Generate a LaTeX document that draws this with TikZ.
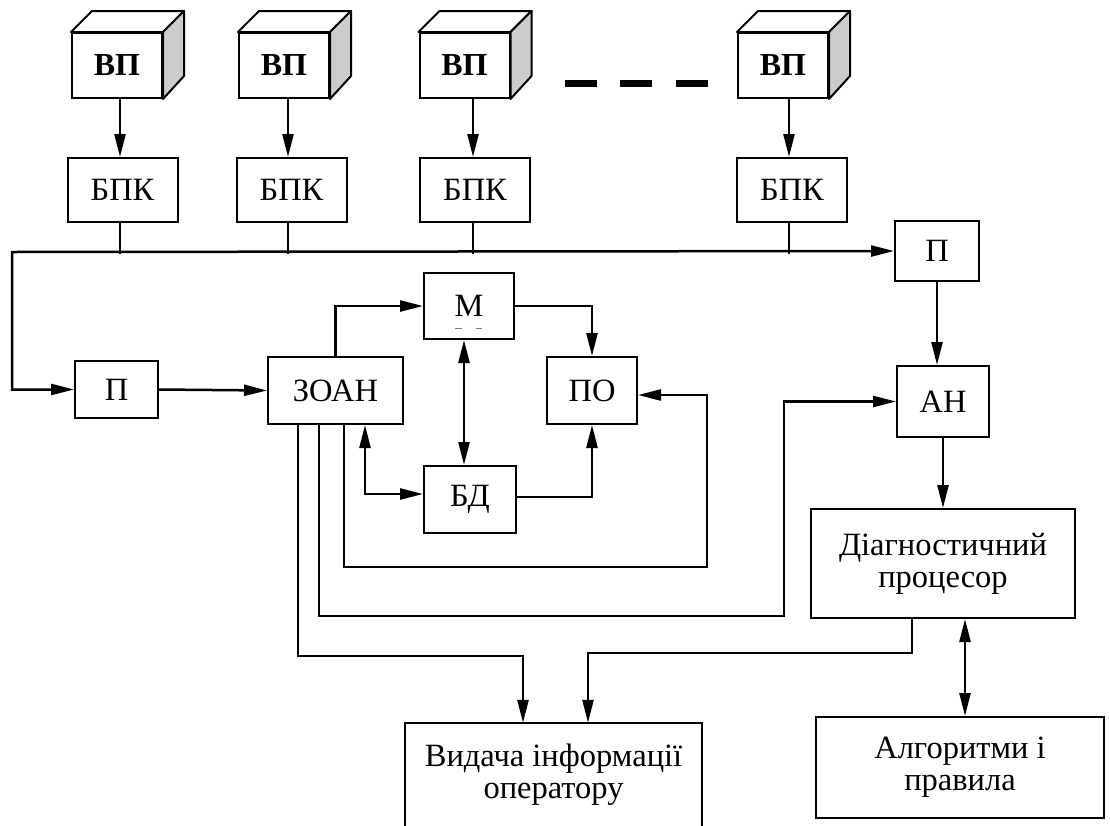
\documentclass[tikz,border=0pt]{standalone}
\usepackage{fontspec}
\setmainfont{Liberation Serif}
\usetikzlibrary{arrows.meta,calc}
\begin{document}
\begin{tikzpicture}[x=1pt,y=-1pt,
  txt/.style={font=\fontsize{32.5}{32}\selectfont, align=center},
  box/.style={draw, line width=2pt, inner sep=0pt, txt},
  conn/.style={line width=2.5pt, line join=miter},
  arr/.style={conn, -{Triangle[length=23pt,width=11pt]}},
  arrb/.style={conn, {Triangle[length=23pt,width=11pt]}-{Triangle[length=23pt,width=11pt]}},
  drop/.style={line width=1.5pt},
  cube/.style={draw, fill=white, line width=2pt, minimum width=90pt, minimum height=65pt, inner sep=0pt, font=\bfseries\fontsize{32}{32}\selectfont},
  cubetop/.style={draw, line width=2pt, line join=round, fill=white},
  cubeside/.style={draw, line width=2pt, line join=round, fill=black!20},
]
\useasboundingbox (0,0) rectangle (1110,825);

% sensors and signal blocks
\foreach \i/\cx/\bx/\lx in {1/117/122.5/120, 2/284/291.5/288, 3/464.5/475/473, 4/783/792/789}{
  \node[cube] (c\i) at (\cx,65.5) {ВП};
  \draw[cubetop] (c\i.north west) -- ++(21,-21) -- ($(c\i.north east)+(21,-21)$) -- (c\i.north east) -- cycle;
  \draw[cubeside] (c\i.north east) -- ++(21,-21) -- ++(0,65) -- (c\i.south east) -- cycle;
  \node[box, minimum width=110pt, minimum height=64pt] (b\i) at (\bx,190) {БПК};
  \coordinate (l\i) at (\lx,254);
  \draw[arr] (c\i.south -| l\i) -- (b\i.north -| l\i);
  \draw[drop] (b\i.south -| l\i) -- (l\i);
}
% dashes between sensors
\draw[line width=7pt] (565,83) -- (597,83) (620,83) -- (652,83) (676,83) -- (708,83);

% main boxes
\node[box, minimum width=84pt, minimum height=60pt] (p1) at (937,251) {П};
\node[box, minimum width=83pt, minimum height=57pt] (p2) at (116.5,389.5) {П};
\node[box, minimum width=135pt, minimum height=67pt] (z) at (335.5,390.5) {ЗОАН};
\node[box, minimum width=90pt, minimum height=66pt] (m) at (469,306) {М};
\draw[gray, line width=0.6pt] (455,328) -- (462,328) (476,328) -- (482,328);
\node[box, minimum width=90pt, minimum height=67pt] (po) at (592,390.5) {ПО};
\node[box, minimum width=92pt, minimum height=67pt] (bd) at (470,499.5) {БД};
\node[box, minimum width=92pt, minimum height=71pt] (an) at (943,401.5) {АН};
\node[box, minimum width=264pt, minimum height=109pt] (dp) at (943,563.5) {Діагностичний\\процесор};
\node[box, minimum width=288pt, minimum height=101pt] (al) at (960,767.5) {Алгоритми і\\правила};
\node[txt, minimum width=297pt, minimum height=104pt, inner sep=0pt] (vy) at (553.5,775) {Видача інформації\\оператору};
\draw[line width=2pt] (vy.south west) -- (vy.north west) -- (vy.north east) -- (vy.south east);

% bus
\coordinate (busL) at (12,252);
\draw[arrb] (p1.west) -- (busL) |- (p2.west);

% connections
\draw[arr] (p2.east) -- (z.west);
\draw[arr] (z.north) |- (m.west);
\draw[arr] (m.east) -| (po.north);
\coordinate (mx) at (464,0);
\draw[arrb] (m.south -| mx) -- (bd.north -| mx);
\coordinate (zx4) at (365,0);
\draw[arrb] (z.south -| zx4) |- ([yshift=5.5pt]bd.west);
\draw[arr] ([yshift=2.5pt]bd.east) -| (po.south);
\coordinate (la) at (344,567);
\coordinate (lb) at (707,567);
\draw[arr] (z.south -| la) -- (la) -- (lb) |- ([yshift=-4.5pt]po.east);
\coordinate (ka) at (319,616);
\coordinate (kb) at (784,616);
\draw[arr] (z.south -| ka) -- (ka) -- (kb) |- (an.west);
\coordinate (ja) at (298,656);
\coordinate (jb) at (523,656);
\draw[arr] (z.south -| ja) -- (ja) -- (jb) -- (vy.north -| jb);
\coordinate (ia) at (912,653);
\coordinate (ib) at (588,653);
\draw[arr] (dp.south -| ia) -- (ia) -- (ib) -- (vy.north -| ib);
\draw[arr] (p1.south) -- (p1.south |- an.north);
\draw[arr] (an.south) -- (dp.north);
\coordinate (hx) at (965,0);
\draw[arrb] (dp.south -| hx) -- (al.north -| hx);
\end{tikzpicture}
\end{document}
